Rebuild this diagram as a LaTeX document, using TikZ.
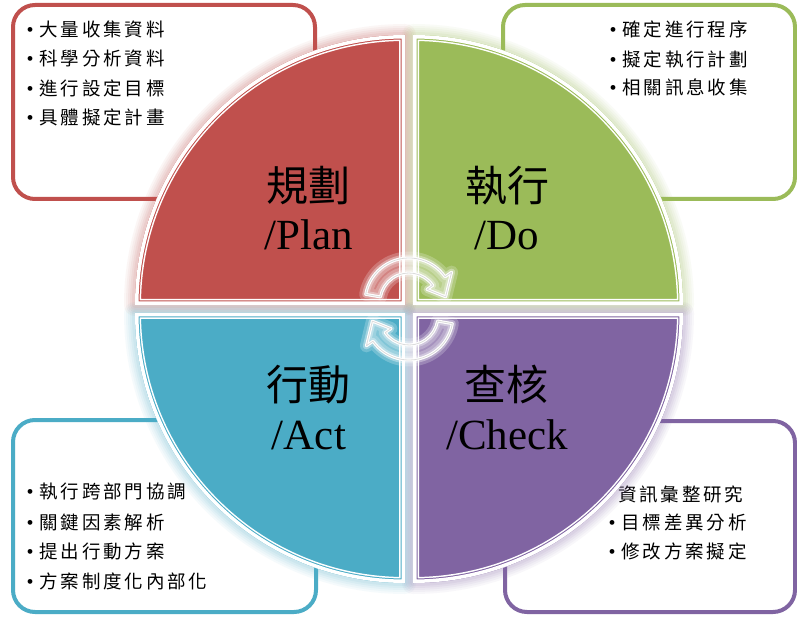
\documentclass[tikz,border=0pt]{standalone}
\usepackage{fontspec}
\setmainfont{Liberation Serif}
\newfontfamily\cjkfont{Noto Sans CJK TC}
\newfontfamily\cjklist[LetterSpace=15]{Noto Sans CJK TC}
\newfontfamily\bulfont{Liberation Serif}
\newcommand\bul{{\bulfont\fontsize{20}{20}\selectfont •}\hspace{6pt}}
\definecolor{cred}{HTML}{C0504D}
\definecolor{cgreen}{HTML}{9BBB59}
\definecolor{cblue}{HTML}{4BACC6}
\definecolor{cpurple}{HTML}{8064A2}
\newcommand\qshadow[2]{%
  \draw[#1,opacity=0.05,line width=22pt,line join=round] #2;
  \draw[#1,opacity=0.05,line width=18pt,line join=round] #2;
  \draw[#1,opacity=0.06,line width=14pt,line join=round] #2;
  \draw[#1,opacity=0.07,line width=10pt,line join=round] #2;
  \draw[#1,opacity=0.08,line width=6pt,line join=round] #2;}
\newcommand\qbody[2]{%
  \fill[#1] #2;
  \begin{scope}
    \clip #2;
    \draw[white,line width=12pt] #2;
    \draw[#1,line width=9pt] #2;
    \draw[white,line width=7pt] #2;
  \end{scope}}
\def\qred{(405,311) -- (135,311) arc[start angle=180,end angle=90,radius=270pt] -- cycle}
\def\qgreen{(413,311) -- (413,581) arc[start angle=90,end angle=0,radius=270pt] -- cycle}
\def\qblue{(405,303) -- (135,303) arc[start angle=180,end angle=270,radius=270pt] -- cycle}
\def\qpurple{(413,303) -- (683,303) arc[start angle=0,end angle=-90,radius=270pt] -- cycle}
\def\ap{(170:44pt) arc[start angle=170,end angle=35,radius=44pt] -- (35:52pt) -- (8:37pt) -- (35:22pt) -- (35:29pt) arc[start angle=35,end angle=170,radius=29pt] -- cycle}
\newcommand\drawarrow{%
  \draw[white,opacity=0.22,line width=13pt,line join=round] \ap;
  \draw[white,opacity=0.35,line width=7pt,line join=round] \ap;
  \fill[white,opacity=0.3] \ap;
  \draw[white,line width=3pt,line join=round] \ap;
  \draw[black!30,opacity=0.45,line width=0.8pt,line join=round] \ap;}
\begin{document}
\begin{tikzpicture}[x=1pt,y=1pt,
  item/.style={anchor=base west,inner sep=0pt,font={\cjklist\fontsize{18.5}{18.5}\selectfont}},
  qcjk/.style={anchor=base,inner sep=0pt,font={\cjkfont\fontsize{42}{42}\selectfont}},
  qlat/.style={anchor=base,inner sep=0pt,font={\fontsize{43}{43}\selectfont}},
  box/.style={line width=4pt,rounded corners=22pt,fill=white}]
\useasboundingbox (0,0) rectangle (797,616);
\fill[white] (0,0) rectangle (797,616);
% corner boxes
\draw[box,draw=cred] (13,611) rectangle (315,417);
\draw[box,draw=cgreen] (503,611) rectangle (795,417);
\draw[box,draw=cblue] (13,196) rectangle (316,4);
\draw[box,draw=cpurple] (505,195) rectangle (795,4);
% lists
\node[item] (tl1) at (26.5,579.2) {\bul 大量收集資料};
\node[item] (tl2) at (26.5,550.2) {\bul 科學分析資料};
\node[item] (tl3) at (26.5,520.2) {\bul 進行設定目標};
\node[item] (tl4) at (26.5,491.2) {\bul 具體擬定計畫};
\node[item] (tr1) at (609.5,579.2) {\bul 確定進行程序};
\node[item] (tr2) at (609.5,549.7) {\bul 擬定執行計劃};
\node[item] (tr3) at (609.5,521.2) {\bul 相關訊息收集};
\node[item] (bl1) at (26.5,117.2) {\bul 執行跨部門協調};
\node[item] (bl2) at (26.5,86.2) {\bul 關鍵因素解析};
\node[item] (bl3) at (26.5,57.2) {\bul 提出行動方案};
\node[item] (bl4) at (26.5,27.2) {\bul 方案制度化內部化};
\node[item] (br1) at (618,114.5) {資訊彙整研究};
\node[item] (br2) at (608.5,86.2) {\bul 目標差異分析};
\node[item] (br3) at (608.5,57.2) {\bul 修改方案擬定};
% quadrants
\qshadow{cred}{\qred}
\qshadow{cgreen}{\qgreen}
\qshadow{cblue}{\qblue}
\qshadow{cpurple}{\qpurple}
\qbody{cred}{\qred}
\qbody{cgreen}{\qgreen}
\qbody{cblue}{\qblue}
\qbody{cpurple}{\qpurple}
% labels
\node[qcjk] (plancjk) at (308,414.5) {規劃};
\node[qlat] (planlat) at (309,366) {/Plan};
\node[qcjk] (docjk) at (507,414.5) {執行};
\node[qlat] (dolat) at (507,366) {/Do};
\node[qcjk] (actcjk) at (308,215) {行動};
\node[qlat] (actlat) at (309,167) {/Act};
\node[qcjk] (chkcjk) at (506,215) {查核};
\node[qlat] (chklat) at (507,167) {/Check};
% cycle arrows
\begin{scope}[shift={(409,314)}]
  \drawarrow
\end{scope}
\begin{scope}[shift={(409,300)},rotate=180]
  \drawarrow
\end{scope}
\end{tikzpicture}
\end{document}
